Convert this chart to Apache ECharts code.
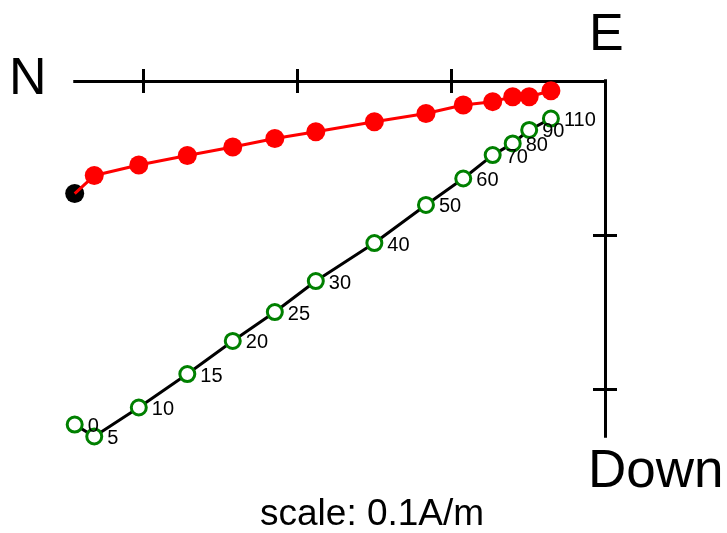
<!DOCTYPE html>
<html>
<head>
<meta charset="utf-8">
<script src="https://cdn.jsdelivr.net/npm/echarts@6/dist/echarts.min.js"></script>
<style>html,body{margin:0;padding:0;background:#fff}#c{width:727px;height:533px}</style>
</head>
<body>
<div id="c"></div>
<script>
// Demagnetisation steps (labels on the vertical projection)
var steps = [0, 5, 10, 15, 20, 25, 30, 40, 50, 60, 70, 80, 90, 110];
// Components in A/m
var north = [0.3442, 0.3315, 0.3026, 0.2711, 0.2416, 0.2143, 0.1877, 0.1497, 0.1162, 0.0920, 0.0729, 0.0599, 0.0492, 0.0351];
var east  = [-0.0731, -0.0614, -0.0545, -0.0484, -0.0429, -0.0373, -0.0329, -0.0264, -0.0211, -0.0156, -0.0134, -0.0102, -0.0102, -0.0063];
var down  = [0.2231, 0.2308, 0.2120, 0.1903, 0.1688, 0.1500, 0.1299, 0.1052, 0.0805, 0.0633, 0.0481, 0.0405, 0.0318, 0.0244];
var tickValues = [0.1, 0.2, 0.3];
var downTickValues = [0.1, 0.2];

var FONT = '"Liberation Sans", Arial, Helvetica, sans-serif';

var horiz = north.map(function (n, i) { return [n, -east[i]]; });
var vert = north.map(function (n, i) { return [n, down[i]]; });
var redData = horiz.map(function (p, i) {
  return i === 0 ? { value: p, symbol: 'none' } : { value: p };
});

function xAx(inside) {
  return {
    type: 'value', position: 'top', inverse: true, min: 0, max: 0.344,
    axisLine: { show: true, onZero: false, lineStyle: { color: '#000', width: 3, cap: 'square' } },
    axisTick: { show: true, inside: inside, length: 12, customValues: tickValues, lineStyle: { color: '#000', width: 3 } },
    axisLabel: { show: false }, splitLine: { show: false }
  };
}
function yAx(inside) {
  return {
    type: 'value', position: 'right', inverse: true, min: 0, max: 0.2305,
    axisLine: { show: true, onZero: false, lineStyle: { color: '#000', width: 3, cap: 'square' } },
    axisTick: { show: true, inside: inside, length: 12, customValues: downTickValues, lineStyle: { color: '#000', width: 3 } },
    axisLabel: { show: false }, splitLine: { show: false }
  };
}

var chart = echarts.init(document.getElementById('c'), null, { renderer: 'canvas' });
chart.setOption({
  animation: false,
  backgroundColor: '#fff',
  grid: { left: 75, right: 122, top: 81, bottom: 97 },
  xAxis: [xAx(false), xAx(true)],
  yAxis: [yAx(false), yAx(true)],
  graphic: [
    { type: 'text', left: 9, top: 54, style: { text: 'N', font: '52px ' + FONT, fill: '#000' } },
    { type: 'text', left: 589, top: 10, style: { text: 'E', font: '52px ' + FONT, fill: '#000' } },
    { type: 'text', left: 588, top: 446, style: { text: 'Down', font: '53px ' + FONT, fill: '#000' } },
    { type: 'text', left: 260, top: 496, style: { text: 'scale: 0.1A/m', font: '37px ' + FONT, fill: '#000' } }
  ],
  series: [
    {
      type: 'scatter', z: 1, clip: false,
      data: [horiz[0]], symbol: 'circle', symbolSize: 19,
      itemStyle: { color: '#000', opacity: 1 }
    },
    {
      type: 'line', z: 2, clip: false,
      data: redData, symbol: 'circle', symbolSize: 19, showSymbol: true,
      lineStyle: { color: '#ff0000', width: 3 },
      itemStyle: { color: '#ff0000' }
    },
    {
      type: 'line', z: 3, clip: false,
      data: vert, symbol: 'circle', symbolSize: 15, showSymbol: true,
      lineStyle: { color: '#000', width: 3 },
      itemStyle: { color: '#fff', borderColor: '#008000', borderWidth: 3 },
      label: {
        show: true, position: 'right', distance: 4, color: '#000',
        fontSize: 20, fontFamily: FONT, offset: [0, 2],
        formatter: function (p) { return String(steps[p.dataIndex]); }
      }
    }
  ]
});
</script>
</body>
</html>
